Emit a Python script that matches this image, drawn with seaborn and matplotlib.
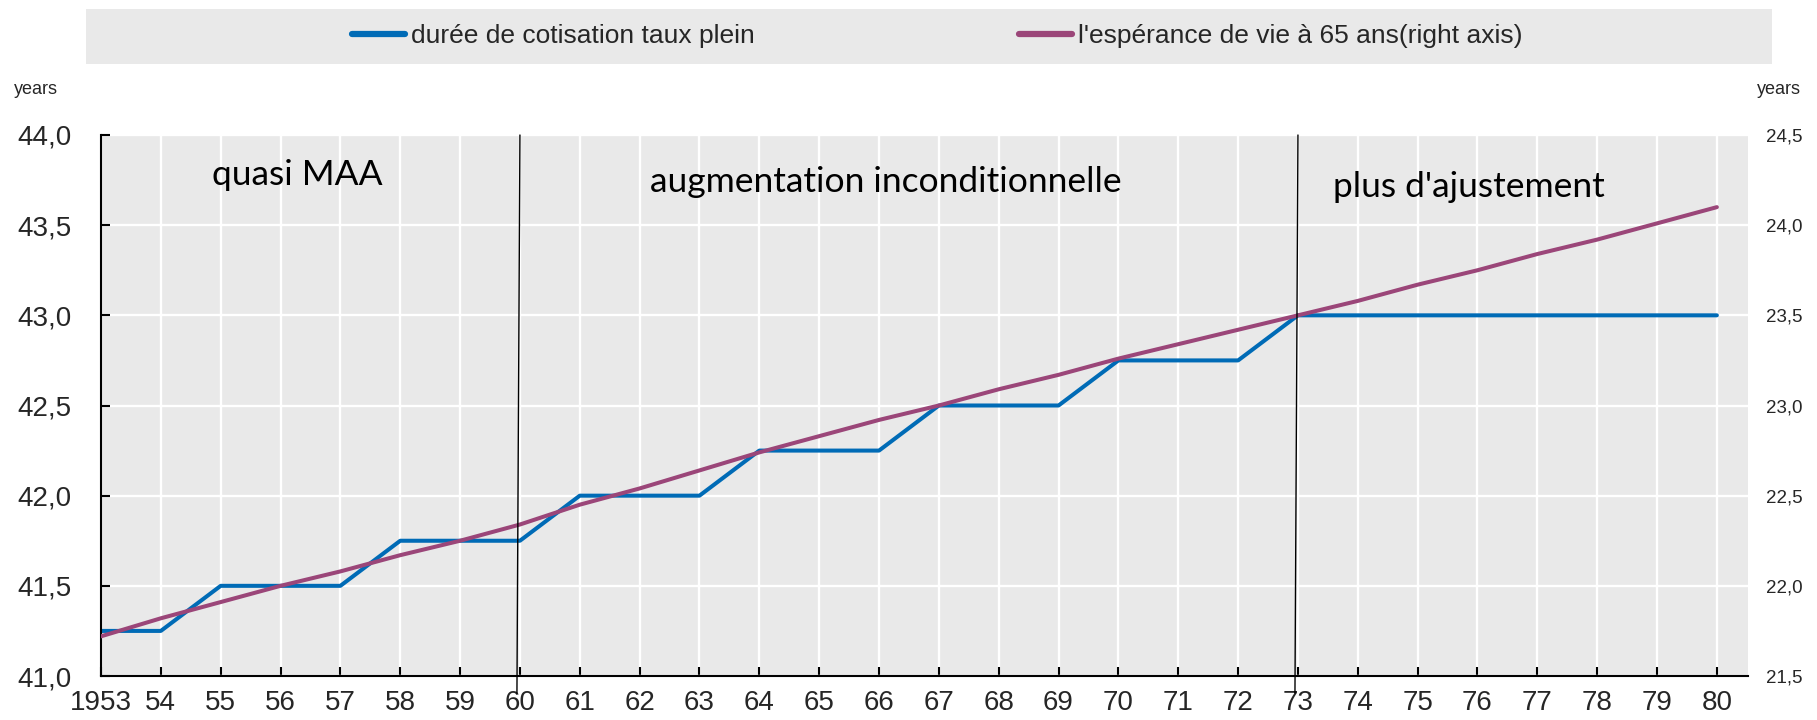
import matplotlib
matplotlib.use("Agg")
import matplotlib.pyplot as plt
from matplotlib.patches import Rectangle
from matplotlib.ticker import FuncFormatter, MultipleLocator
import seaborn as sns
import pandas as pd

# data
years = list(range(1953, 1981))
year_labels = ["1953"] + [str(y)[2:] for y in years[1:]]
duration = [41.25, 41.25, 41.5, 41.5, 41.5, 41.75, 41.75, 41.75,
            42.0, 42.0, 42.0, 42.25, 42.25, 42.25, 42.5, 42.5, 42.5,
            42.75, 42.75, 42.75, 43.0, 43.0, 43.0, 43.0, 43.0, 43.0, 43.0, 43.0]
life_exp = [21.72, 21.82, 21.91, 22.00, 22.08, 22.17, 22.25, 22.34,
            22.45, 22.54, 22.64, 22.74, 22.83, 22.92, 23.00, 23.09, 23.17,
            23.26, 23.34, 23.42, 23.50, 23.58, 23.67, 23.75, 23.84, 23.92, 24.01, 24.10]
series_names = ["durée de cotisation taux plein", "l'espérance de vie à 65 ans(right axis)"]
phase_labels = ["quasi MAA", "augmentation inconditionnelle", "plus d'ajustement"]
phase_starts = [1954.85, 1962.17, 1973.58]
phase_heights = [43.78, 43.74, 43.71]
dividers = [1960, 1973]

BLUE = "#006BB6"
PURPLE = "#9B4679"
GREY = "#E9E9E9"

df = pd.DataFrame({"year": years, "duration": duration, "life": life_exp})

sns.set_theme(style="darkgrid", rc={"axes.facecolor": GREY, "grid.color": "white",
                                    "grid.linewidth": 1.7})
plt.rcParams["font.family"] = ["Liberation Sans", "DejaVu Sans"]

fig = plt.figure(figsize=(18.17, 7.2), dpi=100)
ax = fig.add_axes([101 / 1817, 1 - 676 / 720, (1748 - 101) / 1817, (676 - 135) / 720])

sns.lineplot(data=df, x="year", y="duration", ax=ax, color=BLUE, linewidth=2.9,
             label=series_names[0], legend=False)
ax2 = ax.twinx()
sns.lineplot(data=df, x="year", y="life", ax=ax2, color=PURPLE, linewidth=2.9,
             label=series_names[1], legend=False)

ax.set_xlim(1953, 1980.52)
ax.set_ylim(41, 44)
ax2.set_ylim(21.5, 24.5)
ax.set_xticks(years)
ax.set_xticklabels(year_labels)
ax.yaxis.set_major_locator(MultipleLocator(0.5))
ax2.yaxis.set_major_locator(MultipleLocator(0.5))
comma = FuncFormatter(lambda v, _: f"{v:.1f}".replace(".", ","))
ax.yaxis.set_major_formatter(comma)
ax2.yaxis.set_major_formatter(comma)
ax.set_xlabel("")
ax.set_ylabel("")
ax2.set_ylabel("")
ax2.grid(False)

for s in ["top", "right"]:
    ax.spines[s].set_visible(False)
for s in ax2.spines.values():
    s.set_visible(False)
for s in ["left", "bottom"]:
    ax.spines[s].set_visible(True)
    ax.spines[s].set_color("black")
    ax.spines[s].set_linewidth(1.5)

ax.tick_params(axis="x", direction="in", length=6.5, width=1.5, color="black",
               labelsize=20, pad=10, bottom=True)
ax.tick_params(axis="y", direction="in", length=6.5, width=1.5, color="black",
               labelsize=20, pad=21, left=True)
ax2.tick_params(axis="y", length=0, labelsize=13.5, pad=13)

# phase dividers and labels
for yr in dividers:
    ax2.plot([yr, yr - 0.05], [44.0, 40.905], transform=ax.transData, color="black",
             linewidth=1.0, clip_on=False, zorder=5)
for txt, x0, y0 in zip(phase_labels, phase_starts, phase_heights):
    ax.text(x0, y0, txt, fontsize=25.5, family=["Lato", "DejaVu Sans"],
            ha="left", va="center", color="black")

# unit labels
fig.text(14 / 1817, 1 - 90 / 720, "years", fontsize=13, ha="left", va="center")
fig.text(1757 / 1817, 1 - 90 / 720, "years", fontsize=13, ha="left", va="center")

# legend box
fig.patches.append(Rectangle((86 / 1817, 1 - 64 / 720), (1772 - 86) / 1817, 55 / 720,
                             transform=fig.transFigure, facecolor=GREY, edgecolor="none",
                             zorder=0))
h1, l1 = ax.get_legend_handles_labels()
h2, l2 = ax2.get_legend_handles_labels()
leg = fig.legend(h1 + h2, l1 + l2, loc="center left", ncol=2, frameon=False,
                 bbox_to_anchor=(352 / 1817, 1 - 36 / 720), fontsize=19,
                 handlelength=2.0, handletextpad=0.25, columnspacing=10.0,
                 borderpad=0, borderaxespad=0)
for line in leg.get_lines():
    line.set_linewidth(4.5)

fig.savefig("out.png", dpi=100)
